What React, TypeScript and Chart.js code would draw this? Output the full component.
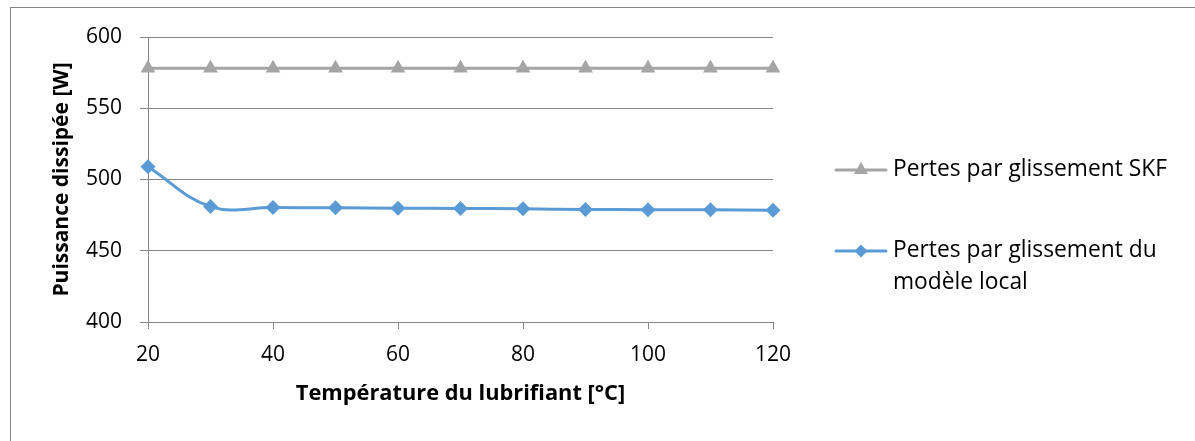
import React, { useEffect, useRef } from 'react';
import { Chart, registerables } from 'chart.js';

Chart.register(...registerables);

// ---- data ----
const temperatures = [20, 30, 40, 50, 60, 70, 80, 90, 100, 110, 120];
const skfLosses = [578, 578, 578, 578, 578, 578, 578, 578, 578, 578, 578];
const localModelLosses = [509, 481, 480.3, 480.1, 479.8, 479.7, 479.4, 479.0, 478.8, 478.7, 478.4];
const xTickValues = [20, 40, 60, 80, 100, 120];
const yTickValues = [400, 450, 500, 550, 600];
const skfLabel = ['Pertes par glissement SKF'];
const localLabel = ['Pertes par glissement du', 'modèle local'];
const xTitle = 'Température du lubrifiant [°C]';
const yTitle = 'Puissance dissipée [W]';

// ---- styles ----
const W = 1195;
const H = 441;
const GRAY = '#A5A5A5';
const BLUE = '#5B9BD5';
const GRID = '#868686';
const FONT = "'Open Sans', sans-serif";

function drawMarker(ctx: CanvasRenderingContext2D, style: string, x: number, y: number, r: number, color: string) {
  ctx.save();
  ctx.fillStyle = color;
  ctx.beginPath();
  if (style === 'triangle') {
    const h = r * 1.5;
    const half = (r * Math.sqrt(3)) / 2;
    ctx.moveTo(x, y - h / 2 - r * 0.25);
    ctx.lineTo(x + half, y + h / 2 - r * 0.25);
    ctx.lineTo(x - half, y + h / 2 - r * 0.25);
  } else {
    ctx.moveTo(x - r, y);
    ctx.lineTo(x, y - r);
    ctx.lineTo(x + r, y);
    ctx.lineTo(x, y + r);
  }
  ctx.closePath();
  ctx.fill();
  ctx.restore();
}

const framePlugin = {
  id: 'frameAndLegend',
  beforeDraw(chart: any) {
    const ctx = chart.ctx as CanvasRenderingContext2D;
    ctx.save();
    ctx.fillStyle = '#ffffff';
    ctx.fillRect(0, 0, W, H);
    ctx.strokeStyle = GRID;
    ctx.lineWidth = 1;
    ctx.strokeRect(10.5, 7.5, 1300, 600);
    ctx.restore();
  },
  afterDraw(chart: any) {
    const ctx = chart.ctx as CanvasRenderingContext2D;
    const rows = [
      { y: 170, lines: 1 },
      { y: 251, lines: 2 },
    ];
    chart.data.datasets.forEach((ds: any, i: number) => {
      const row = rows[i];
      ctx.save();
      ctx.strokeStyle = ds.borderColor;
      ctx.lineWidth = 3;
      ctx.lineCap = 'round';
      ctx.beginPath();
      ctx.moveTo(836, row.y);
      ctx.lineTo(886, row.y);
      ctx.stroke();
      drawMarker(ctx, ds.pointStyle, 861, row.y, ds.pointStyle === 'triangle' ? 8 : 6.5, ds.pointBackgroundColor);
      ctx.fillStyle = '#000000';
      ctx.font = `22.8px ${FONT}`;
      ctx.textAlign = 'left';
      ctx.textBaseline = 'middle';
      const text: string[] = Array.isArray(ds.label) ? ds.label : [ds.label];
      text.forEach((t, k) => ctx.fillText(t, 893, row.y + k * 32));
      ctx.restore();
    });
  },
};

export default function App() {
  const ref = useRef<HTMLCanvasElement | null>(null);

  useEffect(() => {
    if (!ref.current) return;
    const chart = new Chart(ref.current, {
      type: 'line',
      data: {
        labels: temperatures,
        datasets: [
          {
            label: skfLabel as any,
            data: temperatures.map((t, i) => ({ x: t, y: skfLosses[i] })),
            borderColor: GRAY,
            backgroundColor: GRAY,
            pointBackgroundColor: GRAY,
            pointBorderColor: GRAY,
            pointStyle: 'triangle',
            pointRadius: 8.5,
            pointBorderWidth: 0,
            borderWidth: 3,
            tension: 0,
            clip: false,
          } as any,
          {
            label: localLabel as any,
            data: temperatures.map((t, i) => ({ x: t, y: localModelLosses[i] })),
            borderColor: BLUE,
            backgroundColor: BLUE,
            pointBackgroundColor: BLUE,
            pointBorderColor: BLUE,
            pointStyle: 'rectRot',
            pointRadius: 7.5,
            pointBorderWidth: 0,
            borderWidth: 3,
            tension: 0.4,
            cubicInterpolationMode: 'default',
            clip: false,
          } as any,
        ],
      },
      options: {
        responsive: false,
        animation: false,
        devicePixelRatio: 1,
        layout: { padding: { left: 0, top: 37, right: W - 773, bottom: 0 } },
        plugins: {
          legend: { display: false },
          tooltip: { enabled: false },
          title: { display: false },
        },
        scales: {
          x: {
            type: 'linear',
            min: 20,
            max: 120,
            afterBuildTicks: (s: any) => {
              s.ticks = xTickValues.map((v) => ({ value: v }));
            },
            afterFit: (s: any) => {
              s.height = H - 322;
            },
            grid: { drawOnChartArea: false, drawTicks: true, tickLength: 7, color: GRID, lineWidth: 1 },
            border: { display: true, color: GRID, width: 1 },
            ticks: {
              padding: 13,
              color: '#000000',
              font: { family: FONT, size: 21 },
              maxRotation: 0,
              autoSkip: false,
            },
            title: {
              display: true,
              text: xTitle,
              color: '#000000',
              font: { family: FONT, size: 21.8, weight: 'bold' },
              padding: { top: 0, bottom: 34 },
            },
          },
          y: {
            type: 'linear',
            min: 400,
            max: 600,
            afterBuildTicks: (s: any) => {
              s.ticks = yTickValues.map((v) => ({ value: v }));
            },
            afterFit: (s: any) => {
              s.width = 148;
            },
            grid: { drawOnChartArea: true, drawTicks: true, tickLength: 8, color: GRID, lineWidth: 1 },
            border: { display: true, color: GRID, width: 1 },
            ticks: {
              padding: 18,
              color: '#000000',
              font: { family: FONT, size: 21 },
            },
            title: {
              display: true,
              text: yTitle,
              color: '#000000',
              font: { family: FONT, size: 21, weight: 'bold' },
              padding: { top: 49, bottom: 0 },
            },
          },
        },
      } as any,
      plugins: [framePlugin],
    });
    return () => chart.destroy();
  }, []);

  return (
    <div style={{ position: 'absolute', left: 0, top: 0, width: W, height: H, background: '#fff' }}>
      <canvas ref={ref} width={W} height={H} style={{ display: 'block', width: W, height: H }} />
    </div>
  );
}
